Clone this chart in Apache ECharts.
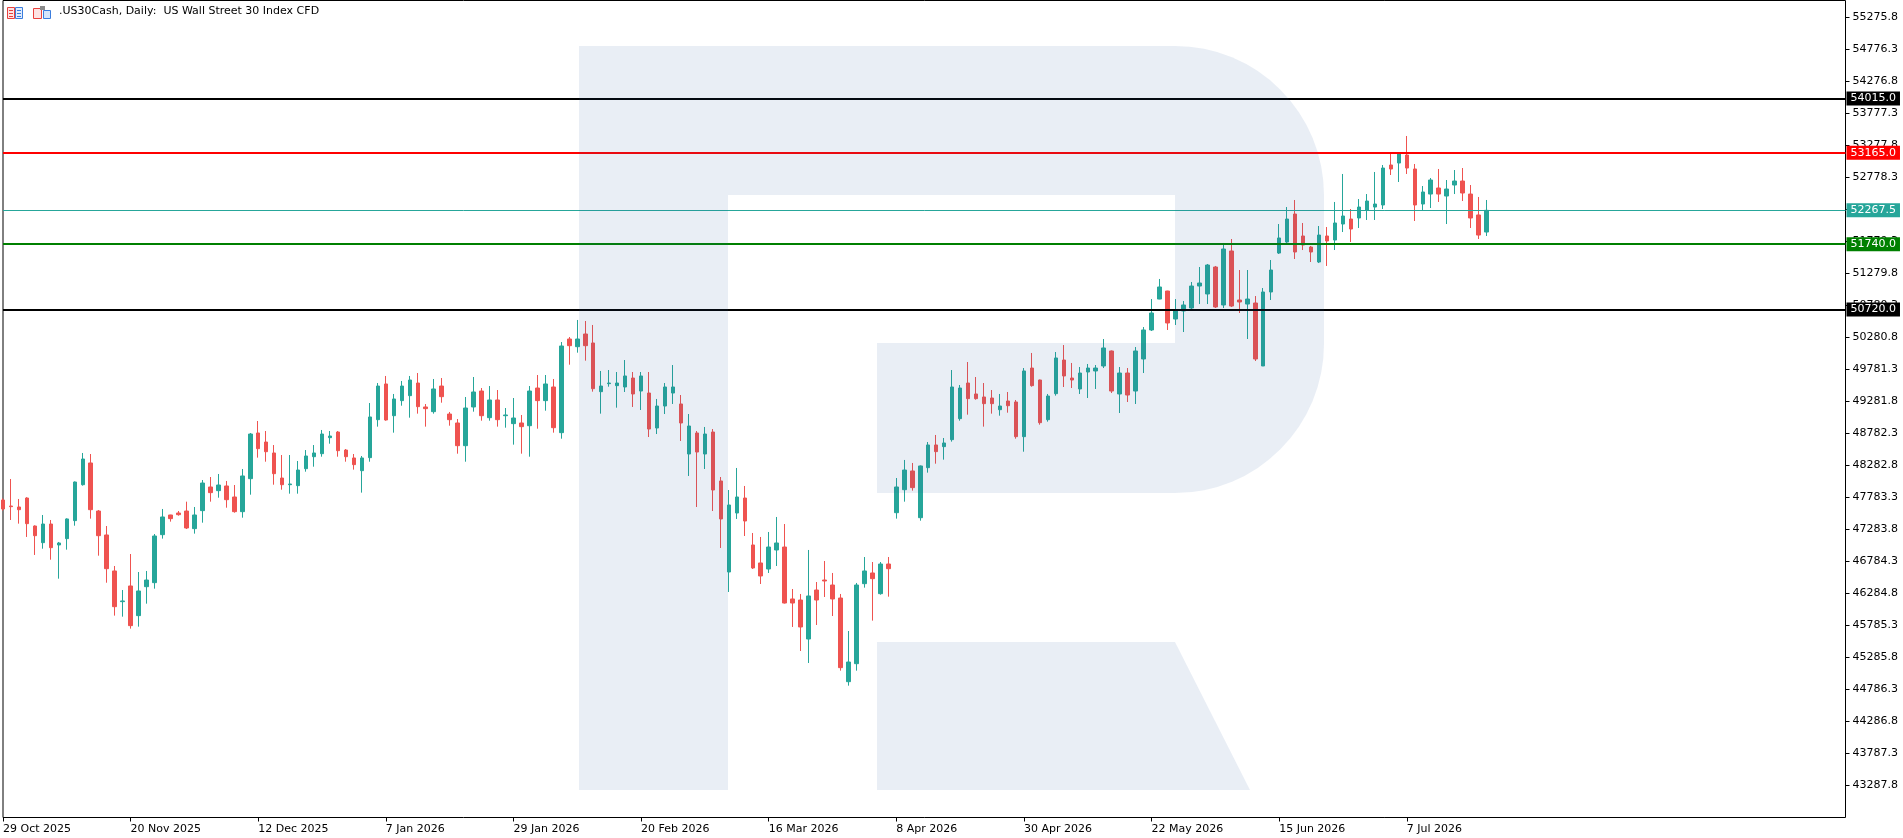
<!DOCTYPE html>
<html>
<head>
<meta charset="utf-8">
<script src="https://cdn.jsdelivr.net/npm/echarts@6/dist/echarts.min.js"></script>
<style>
  html, body { margin: 0; padding: 0; background: #fff; }
  #chart { width: 1903px; height: 838px; }
</style>
</head>
<body>
<div id="chart"></div>
<script>
// date labels, one every 16 bars
var dateLabels = ['29 Oct 2025', '20 Nov 2025', '12 Dec 2025', '7 Jan 2026', '29 Jan 2026', '20 Feb 2026',
  '16 Mar 2026', '8 Apr 2026', '30 Apr 2026', '22 May 2026', '15 Jun 2026', '7 Jul 2026'];

// price scale labels on the right
var yTicks = [43287.8, 43787.3, 44286.8, 44786.3, 45285.8, 45785.3, 46284.8, 46784.3, 47283.8, 47783.3,
  48282.8, 48782.3, 49281.8, 49781.3, 50280.8, 50780.3, 51279.8, 51779.3, 52278.8, 52778.3,
  53277.8, 53777.3, 54276.8, 54776.3, 55275.8];

// horizontal levels
var resistanceHigh = 54015.0;
var resistance = 53165.0;
var lastPrice = 52267.5;
var support = 51740.0;
var supportLow = 50720.0;

// daily OHLC
var opens = [47746, 47652, 47637, 47777, 47340, 47080, 47371, 47044, 47143, 47424,
  47985, 48324, 47574, 47200, 46638, 46159, 46404, 45941, 46393, 46456,
  47205, 47512, 47543, 47574, 47299, 47580, 47949, 47892, 47965, 47793,
  47564, 48079, 48792, 48651, 48480, 48089, 47985, 47970, 48235, 48422,
  48469, 48719, 48807, 48526, 48402, 48204, 48407, 49000, 49557, 49062,
  49297, 49375, 49572, 49198, 49125, 49525, 49088, 48948, 48594, 49198,
  49447, 49031, 49307, 49062, 48938, 48948, 48906, 49494, 49297, 49510,
  48797, 50259, 50139, 50337, 50197, 49437, 49562, 49531, 49510, 49650,
  49447, 49416, 48870, 49213, 49416, 49245, 48464, 48792, 48464, 48807,
  48043, 46622, 47543, 47777, 47044, 46763, 46669, 46966, 47012, 46201,
  46185, 45576, 46341, 46497, 46419, 46216, 44910, 45191, 46440, 46607,
  46284, 46747, 47548, 47907, 48199, 47470, 48251, 48605, 48579, 48688,
  49016, 49572, 49401, 49354, 49338, 49156, 49291, 49276, 48735, 49806,
  49619, 49000, 49406, 49931, 49650, 49479, 49744, 49760, 49838, 50072,
  49401, 49728, 49447, 49947, 50400, 50883, 51008, 50571, 50696, 50743,
  51086, 50962, 51383, 50790, 51633, 50868, 50805, 50821, 49838, 50993,
  51601, 51773, 52210, 51867, 51695, 51461, 51867, 51804, 52054, 52132,
  52148, 52273, 52319, 52351, 52975, 53006, 53131, 52913, 52366, 52522,
  52616, 52491, 52663, 52725, 52522, 52195, 51929];

var closes = [47606, 47642, 47595, 47377, 47189, 47371, 47002, 47075, 47450, 48027,
  48386, 47595, 47189, 46674, 46081, 46170, 45785, 46326, 46497, 47184,
  47481, 47455, 47517, 47309, 47512, 48011, 47861, 47980, 47751, 47564,
  48121, 48776, 48547, 48500, 48157, 47985, 47996, 48214, 48433, 48480,
  48776, 48745, 48516, 48422, 48298, 48402, 49042, 49525, 48995, 49323,
  49525, 49619, 49203, 49172, 49479, 49359, 49000, 48594, 49182, 49432,
  49062, 49307, 49000, 49073, 49026, 48891, 49447, 49297, 49557, 48875,
  50150, 50155, 50259, 50155, 49484, 49525, 49572, 49572, 49682, 49401,
  49682, 48854, 49213, 49510, 49510, 48948, 48901, 48495, 48776, 47902,
  47450, 47668, 47793, 47418, 46685, 46560, 47012, 47075, 46138, 46138,
  45764, 46248, 46185, 46482, 46201, 45129, 45217, 46419, 46638, 46518,
  46747, 46674, 47949, 48214, 47939, 48277, 48605, 48501, 48636, 49510,
  49494, 49328, 49328, 49250, 49250, 49213, 49218, 48735, 49760, 49531,
  48953, 49369, 49963, 49682, 49619, 49728, 49806, 49806, 50119, 49447,
  49728, 49385, 50072, 50400, 50665, 51071, 50509, 50712, 50790, 51086,
  51133, 51414, 50759, 51664, 50774, 50837, 50883, 49947, 50993, 51336,
  51836, 52132, 51617, 51726, 51617, 51882, 51789, 52070, 52179, 51976,
  52319, 52413, 52366, 52928, 52913, 53147, 52928, 52351, 52554, 52741,
  52522, 52600, 52725, 52538, 52148, 51882, 52267.5];

var lows = [47580, 47434, 47377, 47169, 46888, 46986, 46814, 46518, 46971, 47345,
  47970, 47455, 46877, 46455, 45941, 45925, 45738, 45769, 46128, 46362,
  47143, 47408, 47501, 47293, 47221, 47392, 47720, 47782, 47626, 47548,
  47470, 47829, 48407, 48344, 47985, 47907, 47845, 47845, 48188, 48266,
  48422, 48625, 48422, 48344, 48220, 47861, 48344, 48891, 48984, 48797,
  49218, 49031, 49094, 48891, 49094, 49265, 48906, 48469, 48344, 49125,
  48984, 48984, 48891, 48875, 48610, 48469, 48422, 48859, 49140, 48797,
  48703, 49858, 50046, 49921, 49437, 49094, 49515, 49187, 49432, 49198,
  49151, 48729, 48776, 49088, 49245, 48667, 48121, 47637, 48230, 47574,
  46997, 46310, 47450, 47184, 46669, 46435, 46607, 46716, 46130, 45764,
  45389, 45202, 45795, 46232, 45935, 45082, 44848, 45082, 46378, 45863,
  46268, 46237, 47455, 47720, 47892, 47423, 48173, 48313, 48376, 48657,
  48984, 49078, 49312, 48891, 49094, 49062, 49109, 48703, 48500, 49515,
  48922, 48969, 49375, 49510, 49494, 49401, 49338, 49479, 49806, 49416,
  49104, 49276, 49245, 49728, 50384, 50880, 50400, 50478, 50368, 50696,
  50805, 50805, 50743, 50743, 50759, 50665, 50259, 49916, 49837, 50868,
  51586, 51758, 51508, 51648, 51461, 51445, 51399, 51648, 51929, 51773,
  51992, 52117, 52117, 52288, 52819, 52710, 52835, 52101, 52273, 52304,
  52398, 52054, 52522, 52413, 51992, 51820, 51867];

var highs = [47772, 48074, 47762, 47790, 47350, 47512, 47434, 47091, 47460, 48035,
  48480, 48464, 47590, 47340, 46716, 46341, 46903, 46622, 46638, 47215,
  47606, 47515, 47574, 47720, 47637, 48058, 48105, 48152, 48043, 47980,
  48230, 48792, 48979, 48823, 48604, 48448, 48448, 48355, 48526, 48604,
  48839, 48823, 48823, 48542, 48464, 48433, 49260, 49572, 49682, 49401,
  49604, 49682, 49728, 49244, 49635, 49650, 49120, 49010, 49354, 49666,
  49494, 49525, 49463, 49182, 49338, 49073, 49525, 49697, 49697, 49635,
  50212, 50290, 50556, 50540, 50478, 49760, 49775, 49744, 49931, 49744,
  49744, 49744, 49323, 49572, 49853, 49385, 49088, 48823, 48886, 48854,
  48105, 47902, 48246, 47965, 47231, 47169, 47247, 47481, 47371, 46357,
  46279, 46966, 46466, 46794, 46607, 46279, 45701, 46451, 46856, 46778,
  46778, 46856, 48089, 48371, 48324, 48285, 48651, 48761, 48714, 49775,
  49541, 49900, 49666, 49572, 49463, 49401, 49432, 49307, 49806, 50041,
  49625, 49401, 50056, 50165, 49885, 49822, 49869, 49853, 50259, 50080,
  49822, 49806, 50134, 50446, 50883, 51196, 51012, 50883, 50852, 51149,
  51383, 51430, 51399, 51758, 51820, 51336, 51336, 50930, 51055, 51492,
  52054, 52319, 52429, 52070, 51711, 52023, 52007, 52398, 52835, 52288,
  52444, 52522, 52866, 52975, 53178, 53162, 53428, 52991, 52647, 52772,
  52913, 52741, 52897, 52928, 52663, 52476, 52429];

var FONT = 'DejaVu Sans';
var BULL = '#26a69a';
var BEAR = '#ef5350';
var WATERMARK = 'rgba(40, 90, 160, 0.1)';

// bar slots, the chart keeps empty space to the right
var slots = [];
for (var i = 0; i < 232; i++) slots.push(String(i));

var candles = opens.map(function (o, i) {
  return [o, closes[i], lows[i], highs[i]];
});

function isDateSlot(idx) {
  return idx % 16 === 0 && idx / 16 < dateLabels.length;
}

function level(value, color, width) {
  return {
    yAxis: value,
    lineStyle: { color: color, width: width, type: 'solid' },
    label: { backgroundColor: color }
  };
}

var myChart = echarts.init(document.getElementById('chart'));

myChart.setOption({
  animation: false,
  backgroundColor: '#fff',
  grid: {
    left: 0.5,
    top: 0.5,
    right: 57.5,
    bottom: 20.5,
    show: true,
    borderColor: '#000',
    borderWidth: 1
  },
  xAxis: {
    type: 'category',
    data: slots,
    boundaryGap: false,
    axisLine: { show: false },
    axisTick: {
      show: true,
      interval: isDateSlot,
      length: 4,
      lineStyle: { color: '#000' }
    },
    axisLabel: {
      interval: isDateSlot,
      formatter: function (v) { return dateLabels[+v / 16]; },
      align: 'left',
      margin: 6,
      color: '#000',
      fontFamily: FONT,
      fontSize: 11
    },
    splitLine: { show: false }
  },
  yAxis: {
    type: 'value',
    position: 'right',
    min: 42790,
    max: 55543,
    axisLine: { show: false },
    splitLine: { show: false },
    axisTick: {
      show: true,
      customValues: yTicks,
      length: 4,
      lineStyle: { color: '#000' }
    },
    axisLabel: {
      customValues: yTicks,
      formatter: function (v) { return v.toFixed(1); },
      margin: 7,
      color: '#000',
      fontFamily: FONT,
      fontSize: 11
    }
  },
  graphic: {
    elements: [
      // watermark "R"
      { type: 'rect', z: 100, silent: true, shape: { x: 579, y: 46, width: 149, height: 744 }, style: { fill: WATERMARK } },
      { type: 'rect', z: 100, silent: true, shape: { x: 728, y: 46, width: 447, height: 149 }, style: { fill: WATERMARK } },
      { type: 'rect', z: 100, silent: true, shape: { x: 1175, y: 46, width: 149, height: 447, r: [0, 149, 149, 0] }, style: { fill: WATERMARK } },
      { type: 'rect', z: 100, silent: true, shape: { x: 877, y: 343, width: 298, height: 150 }, style: { fill: WATERMARK } },
      { type: 'polygon', z: 100, silent: true, shape: { points: [[877, 642], [1175, 642], [1250, 790], [877, 790]] }, style: { fill: WATERMARK } },
      // header icons
      { type: 'rect', shape: { x: 7.5, y: 7.5, width: 7, height: 11 }, style: { fill: '#fde3e3', stroke: '#e8403c', lineWidth: 1 } },
      { type: 'rect', shape: { x: 15.5, y: 7.5, width: 7, height: 11 }, style: { fill: '#e1ecfb', stroke: '#3b7ddd', lineWidth: 1 } },
      { type: 'line', shape: { x1: 9, y1: 10.5, x2: 13, y2: 10.5 }, style: { stroke: '#e8403c' } },
      { type: 'line', shape: { x1: 9, y1: 13.5, x2: 13, y2: 13.5 }, style: { stroke: '#e8403c' } },
      { type: 'line', shape: { x1: 9, y1: 16.5, x2: 13, y2: 16.5 }, style: { stroke: '#e8403c' } },
      { type: 'line', shape: { x1: 17, y1: 10.5, x2: 21, y2: 10.5 }, style: { stroke: '#3b7ddd' } },
      { type: 'line', shape: { x1: 17, y1: 13.5, x2: 21, y2: 13.5 }, style: { stroke: '#3b7ddd' } },
      { type: 'line', shape: { x1: 17, y1: 16.5, x2: 21, y2: 16.5 }, style: { stroke: '#3b7ddd' } },
      { type: 'rect', shape: { x: 33.5, y: 8.5, width: 8, height: 10 }, style: { fill: '#fde3e3', stroke: '#e8403c', lineWidth: 1 } },
      { type: 'rect', shape: { x: 43.5, y: 10.5, width: 7, height: 8 }, style: { fill: '#d6e5fa', stroke: '#3b7ddd', lineWidth: 1 } },
      { type: 'rect', shape: { x: 40, y: 6, width: 5, height: 4 }, style: { fill: '#8a8a8a' } },
      {
        type: 'text',
        left: 59,
        top: 6,
        style: {
          text: '.US30Cash, Daily:  US Wall Street 30 Index CFD',
          fill: '#000',
          fontFamily: FONT,
          fontSize: 11
        }
      }
    ]
  },
  series: [
    {
      name: 'US30',
      type: 'candlestick',
      data: candles,
      barWidth: 4,
      silent: true,
      itemStyle: {
        color: BULL,
        color0: BEAR,
        borderColor: BULL,
        borderColor0: BEAR,
        borderWidth: 1
      }
    },
    {
      // levels and their price tags
      name: 'levels',
      type: 'line',
      data: [],
      clip: false,
      silent: true,
      markLine: {
        silent: true,
        animation: false,
        symbol: ['none', 'none'],
        label: {
          show: true,
          position: 'end',
          distance: 1,
          formatter: function (p) { return p.value.toFixed(1); },
          color: '#fff',
          fontFamily: FONT,
          fontSize: 11,
          padding: [2, 4, 1, 4]
        },
        data: [
          level(resistanceHigh, '#000', 2),
          level(resistance, '#ff0000', 2),
          level(lastPrice, BULL, 1),
          level(support, '#008000', 2),
          level(supportLow, '#000', 2)
        ]
      }
    }
  ]
});
</script>
</body>
</html>
